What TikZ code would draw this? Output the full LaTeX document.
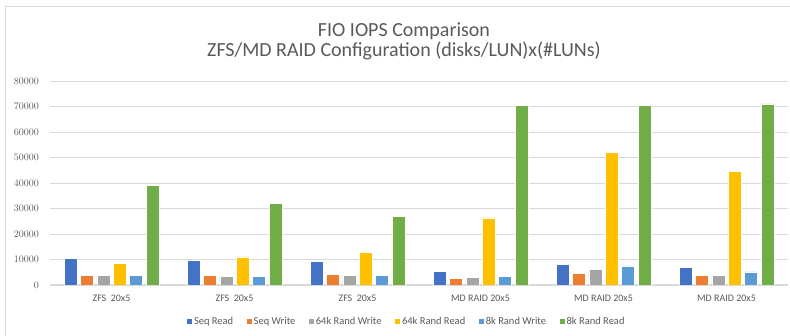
\documentclass[tikz,border=0pt]{standalone}
\usepackage{fontspec}
\setmainfont{Carlito}
\usepackage{tikz}
\usepackage{pgfplots}
\pgfplotsset{compat=1.18}

\definecolor{seqread}{HTML}{4472C4}
\definecolor{seqwrite}{HTML}{ED7D31}
\definecolor{rwsixtyfour}{HTML}{A5A5A5}
\definecolor{rrsixtyfour}{HTML}{FFC000}
\definecolor{rweight}{HTML}{5B9BD5}
\definecolor{rreight}{HTML}{70AD47}
\definecolor{txtgray}{HTML}{595959}
\definecolor{linegray}{HTML}{D9D9D9}

\begin{document}
\begin{tikzpicture}[
  x=1pt, y=1pt,
  titletext/.style={font=\fontsize{20}{24}\selectfont, text=txtgray, anchor=base},
  frame/.style={draw=linegray, line width=1pt},
]
\useasboundingbox (0,0) rectangle (790,336);

%% Chart frame (top and left edge)
\draw[frame] (5.5,0) -- (5.5,329) -- (790,329);

%% Title
\node[titletext] (title1) at (404,299.3) {FIO IOPS Comparison};
\node[titletext] (title2) at (404,279.3) {ZFS/MD RAID Configuration (disks/LUN)x(\#LUNs)};

%% Bars
\begin{axis}[
  at={(50pt,51pt)}, anchor=south west,
  scale only axis, width=738pt, height=204pt,
  xmin=0.5, xmax=6.5, ymin=0, ymax=80000,
  ybar=3.4pt, bar width=13pt,
  axis lines*=left,
  y axis line style={draw=none},
  x axis line style={linegray, line width=1pt, -},
  major tick length=0pt,
  ymajorgrids, grid style={linegray, line width=0.8pt},
  ytick={0,10000,...,80000}, scaled y ticks=false,
  yticklabel style={/pgf/number format/1000 sep={}, text=txtgray,
    font=\fontsize{10}{12}\selectfont, inner sep=0pt},
  yticklabel shift=11pt,
  xtick={1,...,6},
  xticklabels={ZFS\ \ 20x5, ZFS\ \ 20x5, ZFS\ \ 20x5,
    MD RAID 20x5, MD RAID 20x5, MD RAID 20x5},
  xticklabel style={text=txtgray, font=\fontsize{10}{12}\selectfont, inner sep=0pt},
  xticklabel shift=9.5pt,
  every axis plot/.append style={draw=white, line width=0.5pt},
  legend columns=-1,
  legend image code/.code={\fill[#1, draw=none] (0pt,-2.5pt) rectangle (5pt,2.5pt);},
  legend style={at={(0.4824,-0.181)}, anchor=center, draw=none,
    font=\fontsize{10.5}{12}\selectfont, text=txtgray,
    nodes={inner sep=0.5pt},
    /tikz/every odd column/.append style={column sep=1.5pt},
    /tikz/every even column/.append style={column sep=13pt}},
]
\addplot[fill=seqread]     coordinates {(1,10500) (2,9700) (3,9150) (4,5350) (5,8100) (6,6900)};
\addplot[fill=seqwrite]    coordinates {(1,3900) (2,3800) (3,4050) (4,2600) (5,4450) (6,3800)};
\addplot[fill=rwsixtyfour] coordinates {(1,3650) (2,3500) (3,3800) (4,2900) (5,6250) (6,3800)};
\addplot[fill=rrsixtyfour] coordinates {(1,8500) (2,11000) (3,12700) (4,26300) (5,52000) (6,44700)};
\addplot[fill=rweight]     coordinates {(1,3650) (2,3500) (3,3800) (4,3250) (5,7450) (6,5100)};
\addplot[fill=rreight]     coordinates {(1,39200) (2,32150) (3,26900) (4,70300) (5,70300) (6,71000)};
\legend{Seq Read, Seq Write, 64k Rand Write, 64k Rand Read, 8k Rand Write, 8k Rand Read}
\end{axis}
\end{tikzpicture}
\end{document}
